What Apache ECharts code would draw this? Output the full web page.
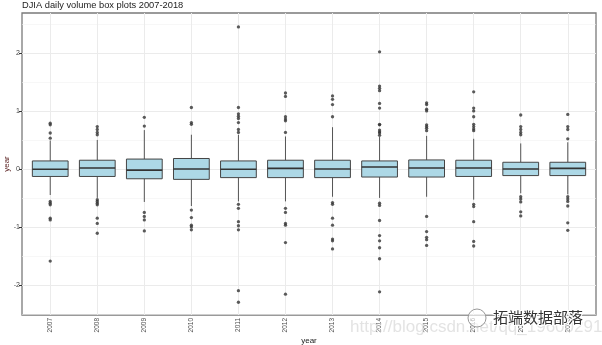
<!DOCTYPE html>
<html>
<head>
<meta charset="utf-8">
<script src="https://cdn.jsdelivr.net/npm/echarts@6/dist/echarts.min.js"></script>
<style>html,body{margin:0;padding:0;background:#fff}#c{width:602px;height:345px}</style>
</head>
<body>
<div id="c"></div>
<script>
const years = ['2007','2008','2009','2010','2011','2012','2013','2014','2015','2016','2017','2018'];
const whiskerLow  = [-0.45,-0.50,-0.57,-0.64,-0.56,-0.56,-0.48,-0.50,-0.48,-0.53,-0.42,-0.44];
const q1          = [-0.13,-0.13,-0.17,-0.18,-0.15,-0.15,-0.15,-0.14,-0.14,-0.13,-0.115,-0.115];
const median      = [-0.006,0.017,-0.02,0.0,-0.005,0.01,0.0,0.034,0.017,0.017,0.0,0.01];
const q3          = [0.138,0.15,0.17,0.18,0.138,0.15,0.15,0.138,0.155,0.15,0.115,0.115];
const whiskerHigh = [0.49,0.50,0.67,0.59,0.59,0.56,0.72,0.55,0.57,0.52,0.44,0.46];
const outliers = [
  [0.53,0.62,0.76,0.79,-0.56,-0.59,-0.62,-0.85,-0.88,-1.59],
  [0.59,0.63,0.68,0.73,-0.53,-0.56,-0.59,-0.62,-0.85,-0.94,-1.11],
  [0.74,0.89,-0.75,-0.82,-0.88,-1.07],
  [0.77,0.80,1.06,-0.71,-0.84,-0.97,-1.00,-1.05],
  [0.63,0.68,0.80,0.87,0.91,0.95,1.06,2.45,-0.61,-0.68,-0.91,-0.98,-1.05,-2.10,-2.30],
  [0.63,0.83,0.86,0.90,1.25,1.31,-0.68,-0.75,-0.94,-0.97,-1.27,-2.16],
  [0.90,1.11,1.20,1.26,-0.58,-0.61,-0.85,-0.97,-1.21,-1.24,-1.38],
  [0.58,0.62,0.64,0.67,0.76,0.77,1.05,1.13,1.35,1.39,1.43,2.02,-0.59,-0.63,-0.89,-1.15,-1.24,-1.36,-1.55,-2.12],
  [0.66,0.70,0.73,0.76,1.00,1.03,1.11,1.14,-0.82,-1.08,-1.18,-1.22,-1.32],
  [0.66,0.69,0.73,0.77,0.90,1.00,1.05,1.33,-0.61,-0.65,-0.91,-1.25,-1.33],
  [0.59,0.63,0.68,0.73,0.93,-0.48,-0.52,-0.57,-0.74,-0.81],
  [0.52,0.68,0.73,0.94,-0.48,-0.52,-0.56,-0.64,-0.93,-1.06]
];
const yTicks = [-2,-1,0,1,2];
const yMinorTicks = [-2.5,-1.5,-0.5,0.5,1.5,2.5];
const yRange = [-2.52, 2.69];
const xRange = [0.4, 12.6];

const xPositions = years.map((y,i)=>i+1);
const boxData = years.map((y,i)=>[i+1, whiskerLow[i], q1[i], median[i], q3[i], whiskerHigh[i]]);
const outlierData = [];
outliers.forEach((arr,i)=>arr.forEach(v=>outlierData.push([i+1, v])));

const FONT = 'Liberation Sans, Arial, sans-serif';
const chart = echarts.init(document.getElementById('c'), null, {renderer:'canvas'});
chart.setOption({
  animation:false,
  backgroundColor:'#fff',
  title:{text:'DJIA daily volume box plots 2007-2018', left:22, top:1, padding:0,
    textStyle:{fontSize:9.3, fontWeight:'normal', color:'#222', fontFamily:FONT}},
  grid:{left:22, right:6, top:13, bottom:30, show:true, borderColor:'#7a7a7a', borderWidth:1.3,
    backgroundColor:'#fff', containLabel:false, outerBoundsMode:'none'},
  xAxis:{type:'value', min:xRange[0], max:xRange[1],
    name:'year', nameLocation:'middle', nameGap:22, nameMoveOverlap:false,
    nameTextStyle:{fontSize:8, color:'#222', fontFamily:FONT},
    axisLine:{show:false},
    axisTick:{show:true, length:3, customValues:xPositions, lineStyle:{color:'#333'}},
    axisLabel:{customValues:xPositions, rotate:90, fontSize:6.5, color:'#4d4d4d', margin:3, fontFamily:FONT,
      formatter:v=>years[Math.round(v)-1] || ''},
    splitLine:{show:true, lineStyle:{color:'#ebebeb', width:1}}
  },
  yAxis:[{type:'value', min:yRange[0], max:yRange[1],
    name:'year', nameLocation:'middle', nameGap:11, nameRotate:90, nameMoveOverlap:false,
    nameTextStyle:{fontSize:8, color:'#5a2020', fontFamily:FONT},
    axisLine:{show:false},
    axisTick:{show:true, length:3, customValues:yTicks, lineStyle:{color:'#333'}},
    axisLabel:{customValues:yTicks, fontSize:7, color:'#444', margin:2, fontFamily:FONT},
    splitLine:{show:true, lineStyle:{color:'#ebebeb', width:1}}
  },{type:'value', min:yRange[0], max:yRange[1], position:'left',
    axisLine:{show:false},
    axisTick:{show:false, customValues:yMinorTicks},
    axisLabel:{show:false, customValues:yMinorTicks},
    splitLine:{show:true, lineStyle:{color:'#f2f2f2', width:0.6}}
  }],
  series:[{
    type:'custom', z:3,
    data:boxData,
    encode:{x:0, y:[1,2,3,4,5]},
    renderItem:function(params, api){
      const x = api.value(0);
      const pLow = api.coord([x, api.value(1)]);
      const pQ1 = api.coord([x, api.value(2)]);
      const pMed = api.coord([x, api.value(3)]);
      const pQ3 = api.coord([x, api.value(4)]);
      const pHigh = api.coord([x, api.value(5)]);
      const half = api.size([0.76, 0])[0] / 2;
      const cx = pQ1[0];
      return {type:'group', children:[
        {type:'line', shape:{x1:cx, y1:pQ3[1], x2:cx, y2:pHigh[1]}, style:{stroke:'#555', lineWidth:1}},
        {type:'line', shape:{x1:cx, y1:pQ1[1], x2:cx, y2:pLow[1]}, style:{stroke:'#555', lineWidth:1}},
        {type:'rect', shape:{x:cx-half, y:pQ3[1], width:2*half, height:pQ1[1]-pQ3[1]},
          style:{fill:'#add8e6', stroke:'#444', lineWidth:1}},
        {type:'line', shape:{x1:cx-half, y1:pMed[1], x2:cx+half, y2:pMed[1]}, style:{stroke:'#333', lineWidth:1.6}}
      ]};
    }
  },{
    type:'scatter', z:4, data:outlierData, symbolSize:3.3,
    itemStyle:{color:'#333'}, silent:true
  }],
  graphic:[
    {type:'text', left:350, top:319, z:10, silent:true,
      style:{text:'http://blog.csdn.net/qq_19600291', fontSize:17, fill:'rgba(215,215,215,0.7)', fontFamily:FONT}},
    {type:'circle', shape:{cx:477, cy:318, r:9}, z:11, silent:true,
      style:{fill:'rgba(255,255,255,0.6)', stroke:'#999', lineWidth:1}},
    {type:'text', left:492, top:309, z:11, silent:true,
      style:{text:'拓端数据部落', fontSize:15, fill:'#333', stroke:'#fff', lineWidth:2, fontFamily:'Noto Sans CJK SC'}}
  ]
});
</script>
</body>
</html>
